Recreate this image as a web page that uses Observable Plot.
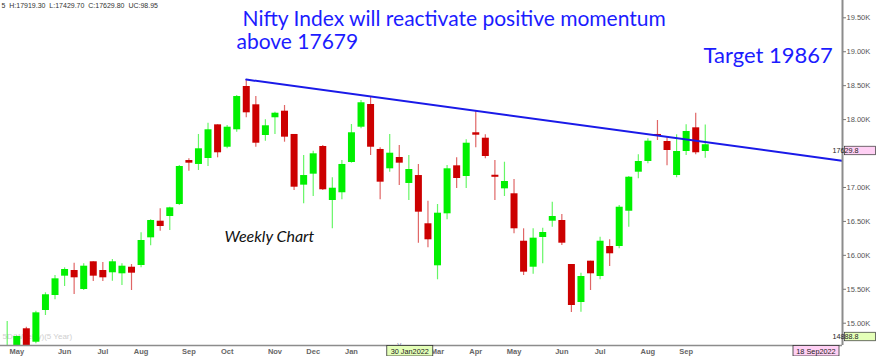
<!DOCTYPE html>
<html><head><meta charset="utf-8">
<script src="https://cdn.jsdelivr.net/npm/d3@7"></script>
<script src="https://cdn.jsdelivr.net/npm/@observablehq/plot@0.6"></script>
<style>
html,body{margin:0;padding:0;background:#fff;}
#chart{position:relative;width:876px;height:356px;overflow:hidden;}
</style></head><body><div id="chart"></div>
<script>
// ---- data (weekly Nifty candles, first week starting 26 Apr 2021) ----
const firstWeek = "2021-04-26";
const opens  = [14480,14600,14918,14720,15187,15408,15693,15777,15497,15905,15777,15743,15728,15825,15850,16258,16503,16572,16749,17397,17339,17427,17923,17593,17850,18488,18218,17766,18027,18124,17781,17034,17196,17604,16808,16922,17368,17888,18223,17560,17275,17442,17059,17176,16465,15846,16612,17319,17162,17806,17726,17180,16980,16907,16208,15825,16263,16503,16513,15865,15305,15914,15688,16130,16130,16650,17225,17383,17781,17677,17176,17530,17879,17530];
const highs  = [15025,14810,14942,15177,15448,15703,15816,15884,15875,15905,15895,15939,15875,15865,16332,16524,16686,16709,17324,17423,17781,17947,17923,17913,18355,18586,18340,17997,18109,18208,17781,17471,17534,17618,17143,17397,17928,18281,18330,17585,17781,17618,17471,17339,16798,16749,17324,17437,17702,18124,17776,17397,17372,17118,16391,16391,16400,16783,16602,15865,15737,15914,16267,16229,16734,17162,17481,17717,17987,17732,17776,17923,18094,17919.3];
const lows   = [14420,14560,14590,14697,15114,15345,15541,15423,15482,15615,15615,15619,15556,15482,15816,16141,16356,16366,16734,17240,17250,17309,17437,17570,17814,18027,17593,17682,17781,17667,16955,16759,16867,16955,16391,16818,17358,17865,17471,16818,17225,17029,16808,16179,16111,15640,16524,16985,16985,17585,17422,16808,16867,16317,15703,15722,15875,16415,16145,15158,15162,15482,15640,15836,16096,16415,17128,17349,17692,17319,17143,17471,17481,17429.7];
const closes = [14630,14804,14650,15153,15419,15654,15791,15669,15840,15693,15669,15905,15840,15737,16219,16513,16425,16700,17309,17358,17570,17850,17511,17888,18340,18100,17652,17909,18094,17741,17004,17176,17496,16966,16989,17339,17806,18248,17593,17078,17505,17358,17265,16636,16229,16621,17275,17132,17652,17770,17456,17150,17088,16391,15752,16253,16337,16572,16179,15261,15688,15728,16208,16023,16709,17151,17383,17682,17751,17545,17530,17825,17511,17629.8];
// month labels (February sits under the cursor date box and is not shown)
const monthTicks = ["2021-05-03","2021-06-07","2021-07-05","2021-08-02","2021-09-06","2021-10-04","2021-11-08","2021-12-06","2022-01-03","2022-03-07","2022-04-04","2022-05-02","2022-06-06","2022-07-04","2022-08-08","2022-09-05"];
// price labels (17.50K sits under the last-price tag and is not shown)
const yTicks = [15000,15500,16000,16500,17000,18000,18500,19000,19500];
const trendDates  = ["2021-10-18","2022-12-28"];
const trendValues = [18590,17395];
const priceTags = [17629.8, 14888.8];
const cursorDate = "2022-02-07";
const cursorLabel = "30 Jan2022";
const lastLabel = "18 Sep2022";
const headerText = "5  H:17919.30  L:17429.70  C:17629.80  UC:98.95";
const watermark = "5D(Weekly)(5 Year)";
const title1 = "Nifty Index will reactivate positive momentum";
const title2 = "above 17679";
const targetText = "Target 19867";
const chartLabel = "Weekly Chart";

// ---- build ----
const UP = "#00f000", DOWN = "#cc0000";
const start = new Date(firstWeek);
const dates = opens.map((_, i) => d3.utcDay.offset(start, 7 * i));
const candles = dates.map((date, i) => ({date, open: opens[i], high: highs[i], low: lows[i], close: closes[i]}));
const trend = trendDates.map((d, i) => ({date: new Date(d), value: trendValues[i]}));
const xDomain = [new Date(+start - 4.905 * 864e5), new Date(+start + 611.45 * 864e5)];
const yDomain = [14671.6, 19754.9];
const col = d => d.close >= d.open ? UP : DOWN;

const annot = (txt, opts) => Plot.text([txt], {text: d => d, frameAnchor: "top-left", textAnchor: "start", lineAnchor: "middle", ...opts});

const plot = Plot.plot({
  width: 876, height: 356,
  marginTop: 0, marginLeft: 0, marginRight: 34, marginBottom: 11,
  style: {fontFamily: "'Liberation Sans', Arial, sans-serif", background: "#fff", color: "#555", overflow: "hidden"},
  x: {type: "utc", domain: xDomain},
  y: {domain: yDomain},
  color: {type: "identity"},
  marks: [
    annot(watermark, {dx: 2, dy: 336, fontSize: 8, fill: "#cfcfcf", ariaLabel: "watermark"}),
    Plot.ruleX(candles, {x: "date", y1: "low", y2: "high", stroke: col, strokeWidth: 1.2, strokeOpacity: 0.6, clip: true}),
    Plot.ruleX(candles, {x: "date", y1: "open", y2: "close", stroke: col, strokeWidth: 7, clip: true}),
    Plot.line(trend, {x: "date", y: "value", stroke: "#1a1ae8", strokeWidth: 2, clip: true}),
    Plot.ruleY([yDomain[0]], {stroke: "#8c8c8c", strokeWidth: 1.5}),
    Plot.ruleX([xDomain[1]], {stroke: "#8c8c8c", strokeWidth: 2}),
    Plot.axisY(yTicks, {anchor: "right", tickFormat: d => (d / 1000).toFixed(2) + "K", tickSize: 3, tickPadding: 1, fontSize: 7.5, fill: "#555", stroke: "#777"}),
    Plot.axisX(monthTicks.map(d => new Date(d)), {anchor: "bottom", tickFormat: d3.utcFormat("%b"), tickSize: 0, tickPadding: 3, fontSize: 7.5, fontWeight: "bold", fill: "#666"}),
    Plot.text([new Date(cursorDate)], {x: d => d, frameAnchor: "bottom", text: () => "V", fontSize: 6, fill: "#6a6aa0", lineAnchor: "bottom", dy: 1}),
    annot(headerText, {dx: 1, dy: 5, fontSize: 7, fill: "#333", ariaLabel: "header"}),
    annot(title1, {dx: 242, dy: 19, fontSize: 21, fill: "#1c1cff", fontFamily: "Lato, sans-serif", ariaLabel: "title1"}),
    annot(title2, {dx: 236, dy: 42, fontSize: 21, fill: "#1c1cff", fontFamily: "Lato, sans-serif", ariaLabel: "title2"}),
    annot(targetText, {dx: 703, dy: 55, fontSize: 22, fill: "#1c1cff", fontFamily: "Lato, sans-serif", ariaLabel: "target"}),
    annot(chartLabel, {dx: 224, dy: 236, fontSize: 16, fill: "#111", fontFamily: "Lato, sans-serif", fontStyle: "italic", ariaLabel: "weekly"})
  ]
});
document.getElementById("chart").appendChild(plot);

// exact text widths
const svg = d3.select(plot);
const fit = (label, w) => svg.selectAll(`g[aria-label="${label}"] text`).attr("textLength", w).attr("lengthAdjust", "spacingAndGlyphs").style("white-space", "pre");
fit("title1", 456); fit("title2", 126); fit("target", 129); fit("weekly", 98); fit("header", 160);

// price tags on the right axis and date boxes on the time axis
const ys = plot.scale("y"), xs = plot.scale("x");
const tagColors = ["#ffd0f4", "#e4ffb8"];
priceTags.forEach((v, i) => {
  const y = ys.apply(v) + 2;
  const g = svg.append("g");
  g.append("rect").attr("x", 844.5).attr("y", y).attr("width", 31).attr("height", 8.5).attr("fill", tagColors[i]).attr("stroke", "#333").attr("stroke-width", 0.7);
  g.append("text").attr("x", 845.5).attr("y", y + 7).attr("font-size", 7.2).attr("font-family", "'Liberation Sans', Arial").attr("fill", "#222").text(v.toFixed(1));
});
const box = (x, label, fill) => {
  const g = svg.append("g");
  g.append("rect").attr("x", x).attr("y", 345.5).attr("width", 46).attr("height", 10.5).attr("fill", fill).attr("stroke", "#333").attr("stroke-width", 0.8);
  g.append("text").attr("x", x + 23).attr("y", 353.6).attr("text-anchor", "middle").attr("font-size", 7.3).attr("font-family", "'Liberation Sans', Arial").attr("fill", "#222").text(label);
};
box(xs.apply(new Date(cursorDate)) - 12, cursorLabel, "#e4ffb8");
box(xs.apply(xDomain[1]) - 49, lastLabel, "#ffd0f4");
</script></body></html>
